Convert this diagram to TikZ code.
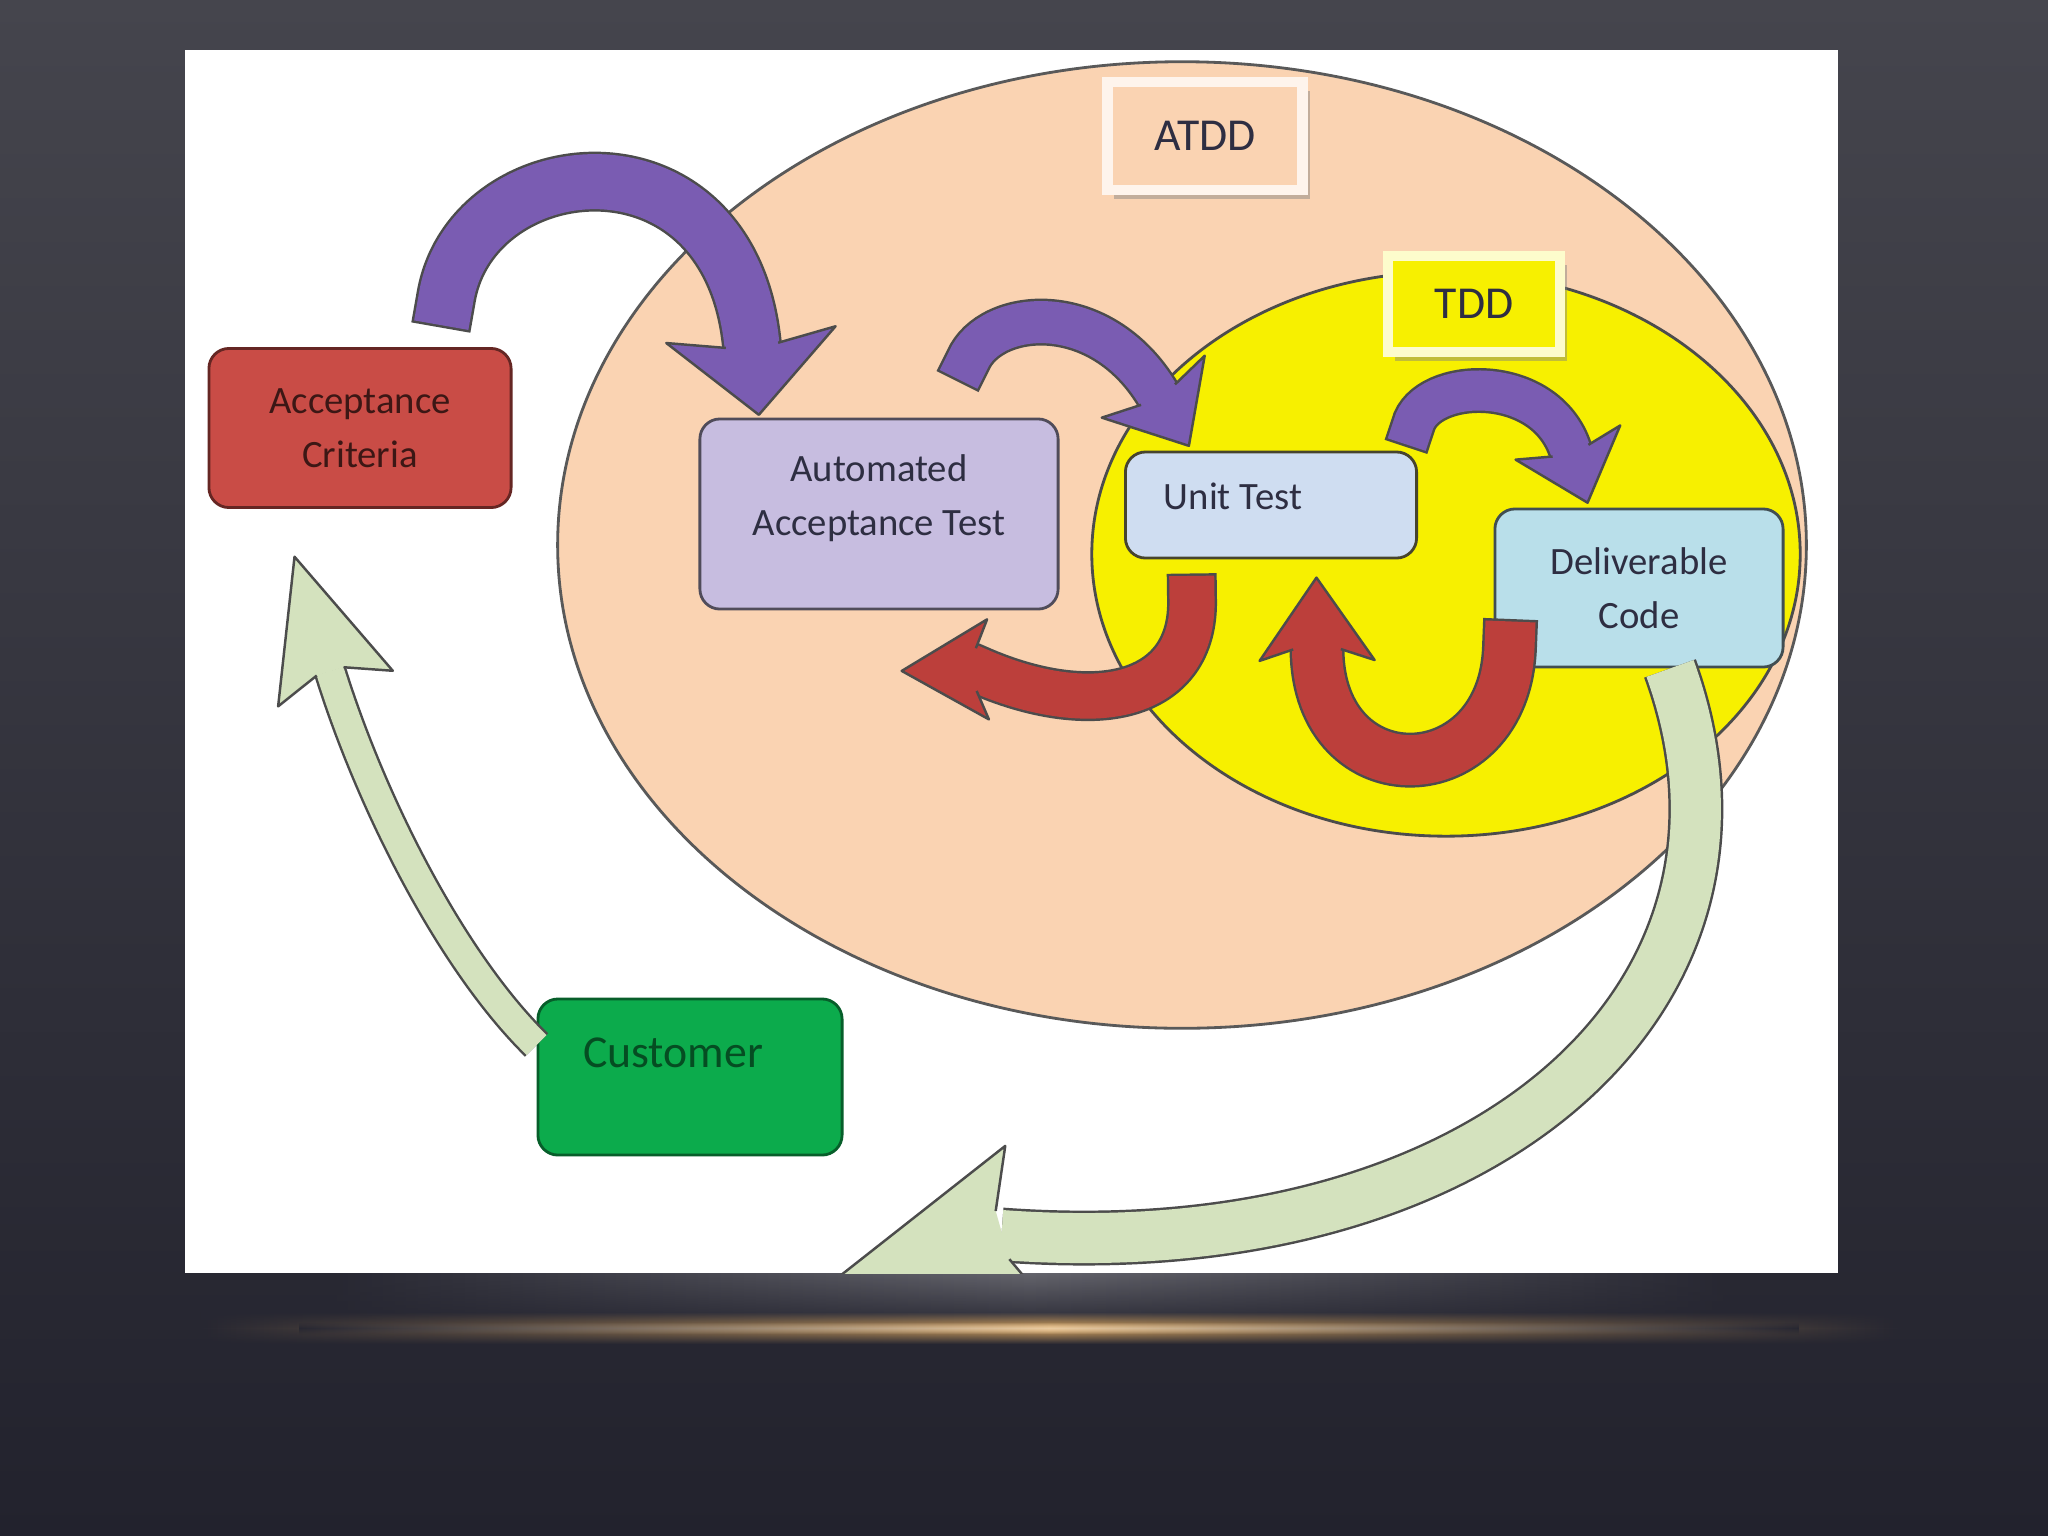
\documentclass[tikz,border=0pt]{standalone}
\usepackage{fontspec}
\setmainfont{Carlito}
\usetikzlibrary{shapes.geometric,shadows,calc,decorations.markings,fadings}

\definecolor{bgtop}{HTML}{45454D}
\definecolor{bgbot}{HTML}{22222D}
\definecolor{glowgray}{HTML}{64646C}
\definecolor{glowgold}{HTML}{DCA862}
\definecolor{atddfill}{HTML}{FAD3B2}
\definecolor{tddfill}{HTML}{F7F000}
\definecolor{critfill}{HTML}{C94C46}
\definecolor{aatfill}{HTML}{C7BDE0}
\definecolor{unitfill}{HTML}{CFDDF1}
\definecolor{delivfill}{HTML}{B9DFEA}
\definecolor{custfill}{HTML}{0CAB4C}
\definecolor{arrowpurple}{HTML}{7A5CB2}
\definecolor{arrowred}{HTML}{BC3F3B}
\definecolor{arrowgreen}{HTML}{D4E2BE}
\definecolor{inktext}{HTML}{2E2E42}

\tikzfading[name=vband, top color=transparent!100, bottom color=transparent!100, middle color=transparent!0]
\tikzfading[name=downfade, top color=transparent!0, bottom color=transparent!100]

\tikzset{
  box/.style={rectangle, rounded corners=0.2cm, draw=#1, line width=0.8pt, align=center, inner sep=0pt, text=inktext, font=\fontsize{11}{15.5}\selectfont},
  boxtext/.style={align=center, inner sep=0pt, text=inktext, font=\fontsize{11}{15.5}\selectfont},
  tag/.style={rectangle, draw=#1, line width=3pt, inner sep=0pt, text=inktext, font=\fontsize{13}{15}\selectfont, drop shadow={shadow xshift=0.07cm, shadow yshift=-0.09cm, opacity=0.45}},
  band/.style n args={5}{draw=black!70, line width=0.7pt, double=#1, double distance=#2, line cap=rect,
    postaction={decorate, decoration={markings, mark=at position 0.999 with {
      \filldraw[fill=#1, draw=black!70, line width=0.7pt, line join=round, rotate=#5]
        (0pt,0.5*#2) -- (-0.15*#4,0.5*#3) -- (#4,0pt) -- (-0.15*#4,-0.5*#3) -- (0pt,-0.5*#2);}}}}
}

\begin{document}
\begin{tikzpicture}[x={(0.01cm,0)}, y={(0,-0.01cm)}]
    \useasboundingbox (0,0) rectangle (2048,1536);
    \shade[top color=bgtop, bottom color=bgbot] (0,0) rectangle (2048,1536);
    \shade[left color=bgbot!83!bgtop, right color=bgbot!83!bgtop, middle color=glowgray, path fading=downfade] (330,1273) rectangle (1730,1328);
    \shade[left color=bgbot!86!bgtop, right color=bgbot!86!bgtop, middle color=glowgold, path fading=vband] (200,1312) rectangle (1900,1344);
    \shade[left color=bgbot!86!bgtop, right color=bgbot!86!bgtop, middle color=glowgold!60!white, path fading=vband] (300,1322) rectangle (1800,1334);
    \fill[white] (185,50) rectangle (1838,1273);

    \begin{scope}
    \clip (185,50) rectangle (1838,1273);

    \node[ellipse, draw=black!65, line width=0.8pt, fill=atddfill, minimum width=12.48cm, minimum height=9.66cm, inner sep=0pt] (atdd) at (1182,545) {};
    \node[ellipse, draw=black!70, line width=0.8pt, fill=tddfill, minimum width=7.08cm, minimum height=5.64cm, inner sep=0pt] (tdd) at (1446,554) {};

    \node[tag=white!75!atddfill, fill=atddfill, minimum width=1.95cm, minimum height=1.08cm] (atddtag) at (1205,136) {ATDD};
    \node[tag=white!80!tddfill, fill=tddfill, minimum width=1.72cm, minimum height=0.96cm] (tddtag) at (1474,304) {TDD};

    \node[box=critfill!50!black, fill=critfill, text=critfill!30!black, minimum width=3.02cm, minimum height=1.59cm] (crit) at (360,428) {Acceptance\\Criteria};
    \node[box=aatfill!40!black, fill=aatfill, minimum width=3.58cm, minimum height=1.90cm] (aat) at (879,514) {};
    \node[boxtext] (aattext) at ($(aat)+(0,-16)$) {Automated\\Acceptance Test};
    \node[box=black!65!olive, fill=unitfill, minimum width=2.91cm, minimum height=1.06cm] (unit) at (1271,505) {};
    \node[boxtext] (unittext) at ($(unit)+(-38,-9)$) {Unit Test};
    \node[box=delivfill!35!black, fill=delivfill, minimum width=2.88cm, minimum height=1.58cm] (deliv) at (1639,588) {Deliverable\\Code};
    \node[box=custfill!55!black, fill=custfill, minimum width=3.04cm, minimum height=1.56cm] (cust) at (690,1077) {};
    \node[boxtext, text=custfill!45!black, font=\fontsize{13}{15}\selectfont] (custtext) at ($(cust)+(-17,-24)$) {Customer};

    \draw[band={arrowpurple}{0.55cm}{1.7cm}{0.7cm}{0}] ($(crit.north)+(86,-49)$) .. controls (470,150) and (730,120) .. ($(aat.north)+(-127,-72)$);
    \draw[band={arrowpurple}{0.42cm}{1.2cm}{0.6cm}{0}] ($(aat.north)+(89,-57)$) .. controls (990,310) and (1100,298) .. ($(unit.north west)+(34,-56)$);
    \draw[band={arrowpurple}{0.4cm}{1.1cm}{0.55cm}{0}] ($(unit.north east)+(-5,-25)$) .. controls (1425,378) and (1545,372) .. ($(deliv.north west)+(77,-57)$);

    \draw[band={arrowred}{0.45cm}{1.0cm}{0.75cm}{25}] ($(unit.south)+(-79,39)$) .. controls (1195,700) and (1090,720) .. ($(aat.south east)+(-83,59)$);
    \draw[band={arrowred}{0.5cm}{1.15cm}{0.72cm}{0}] ($(deliv.south west)+(16,-22)$) .. controls (1505,795) and (1318,800) .. ($(unit.south)+(46,90)$);

    \draw[band={arrowgreen}{0.28cm}{1.2cm}{1.2cm}{0}, line cap=butt] ($(cust.west)+(0,-32)$) .. controls (450,960) and (370,800) .. ($(crit.south)+(-30,162)$);
    \draw[band={arrowgreen}{0.5cm}{1.7cm}{1.8cm}{20}, line cap=butt] ($(deliv.south)+(31,0)$) .. controls (1790,1000) and (1480,1270) .. ($(cust.east)+(158,158)$);
    \end{scope}
\end{tikzpicture}
\end{document}
